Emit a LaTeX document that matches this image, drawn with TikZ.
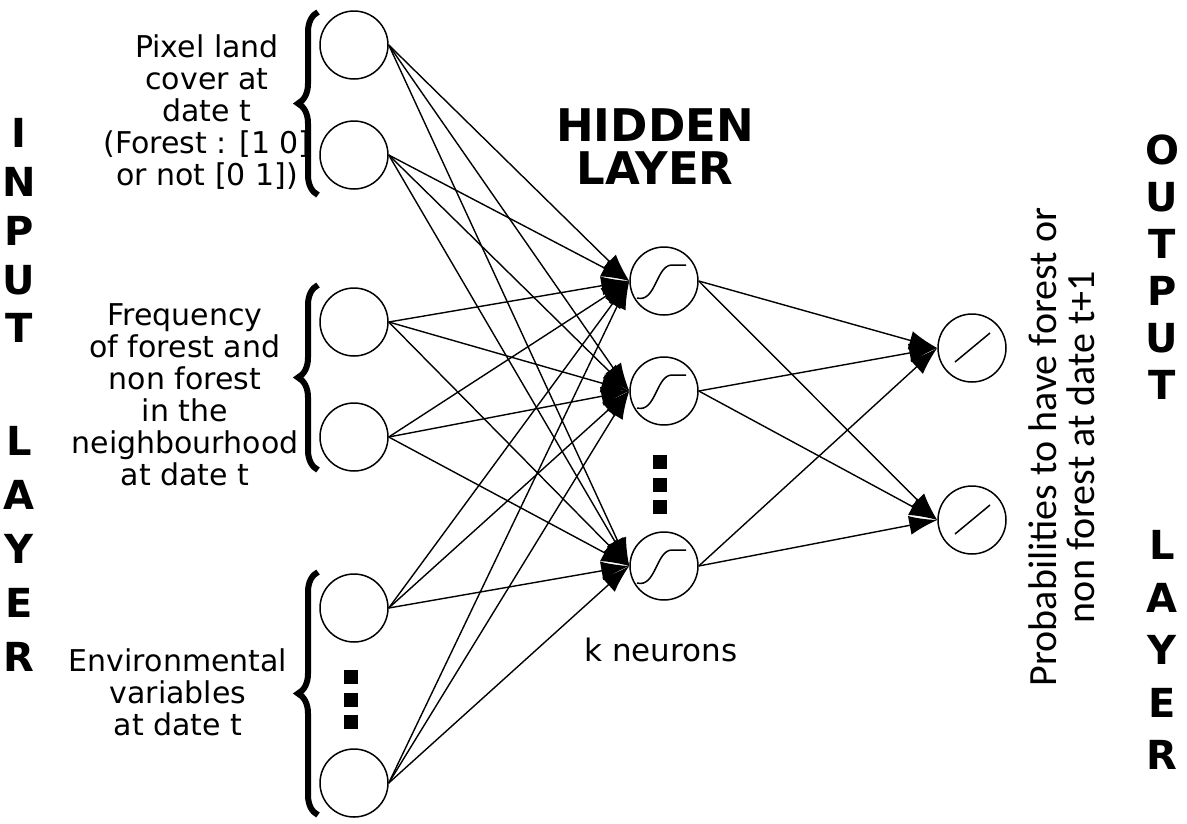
\documentclass[tikz,border=0pt]{standalone}
\usepackage{fontspec}
\setmainfont{DejaVu Sans}
\newfontfamily\probfont{Carlito}
\usetikzlibrary{arrows.meta,decorations.pathreplacing}

\tikzset{
  neuron/.style={circle,draw,line width=1.5pt,minimum size=68pt,inner sep=0pt},
  link/.style={line width=1.4pt,-{Latex[length=28pt,width=19pt]}},
  layerletter/.style={font=\fontsize{40}{40}\bfseries\selectfont},
  grouplabel/.style={align=center,font=\fontsize{30}{32}\selectfont},
  dotbox/.style={fill,minimum size=14pt,inner sep=0pt},
  bracket/.style={decorate,decoration={brace,amplitude=20pt},line width=6pt},
}

\begin{document}
\begin{tikzpicture}[x=1pt,y=-1pt]
  \useasboundingbox (0,0) rectangle (1187,823);

  % neurons
  \foreach[count=\i] \y in {45,155,322,437,608,783} {
    \node[neuron] (i\i) at (354,\y) {};
  }
  \foreach[count=\i] \y in {281,391,566} {
    \node[neuron] (h\i) at (664,\y) {};
  }
  \foreach[count=\i] \y in {348,520} {
    \node[neuron] (o\i) at (972,\y) {};
  }

  % activation symbols
  \foreach \i in {1,2,3} {
    \draw[line width=1.5pt,shift={(h\i.center)}] (-27,17) .. controls (-8,22) and (-8,-16) .. (8,-16) -- (22,-16);
  }
  \foreach \i in {1,2} {
    \draw[line width=1.5pt,shift={(o\i.center)}] (-17,14) -- (18,-15);
  }

  % connections
  \foreach \i in {1,...,6} {
    \foreach \j in {1,2,3} {
      \draw[link] (i\i.east) -- (h\j.west);
    }
  }
  \foreach \j in {1,2,3} {
    \foreach \k in {1,2} {
      \draw[link] (h\j.east) -- (o\k.west);
    }
  }

  % vertical dots
  \foreach \y in {677,700,722} {
    \node[dotbox] at (351,\y) {};
  }
  \foreach \y in {462,485,507} {
    \node[dotbox] at (660,\y) {};
  }

  % braces
  \draw[bracket] (318,195) -- (318,12);
  \draw[bracket] (318,470) -- (318,285);
  \draw[bracket] (318,815) -- (318,572);

  % input labels
  \node[grouplabel] (pixel) at (207,112) {Pixel land\\cover at\\date t\\(Forest : [1 0]\\or not [0 1])};
  \node[grouplabel] (freq) at (185,395) {Frequency\\of forest and\\non forest\\in the\\neighbourhood\\at date t};
  \node[grouplabel] (env) at (178,692) {Environmental\\variables\\at date t};

  % layer titles
  \foreach \l/\y in {I/133,N/182,P/231,U/280,T/328,L/441,A/495,Y/549,E/603,R/657} {
    \node[layerletter] at (19,\y) {\l};
  }
  \foreach \l/\y in {O/150,U/197,T/244,P/291,U/338,T/385,L/545,A/598,Y/650,E/703,R/755} {
    \node[layerletter] at (1162,\y) {\l};
  }
  \node[align=center,font=\fontsize{45}{43}\bfseries\selectfont] (hidden) at (655,147) {HIDDEN\\LAYER};
  \node[font=\fontsize{31}{32}\selectfont] (kneur) at (661,650) {k neurons};
  \node[rotate=90,align=center,font=\probfont\fontsize{40}{38}\selectfont] (prob) at (1062,447) {Probabilities to have forest or\\non forest at date t+1};
\end{tikzpicture}
\end{document}
